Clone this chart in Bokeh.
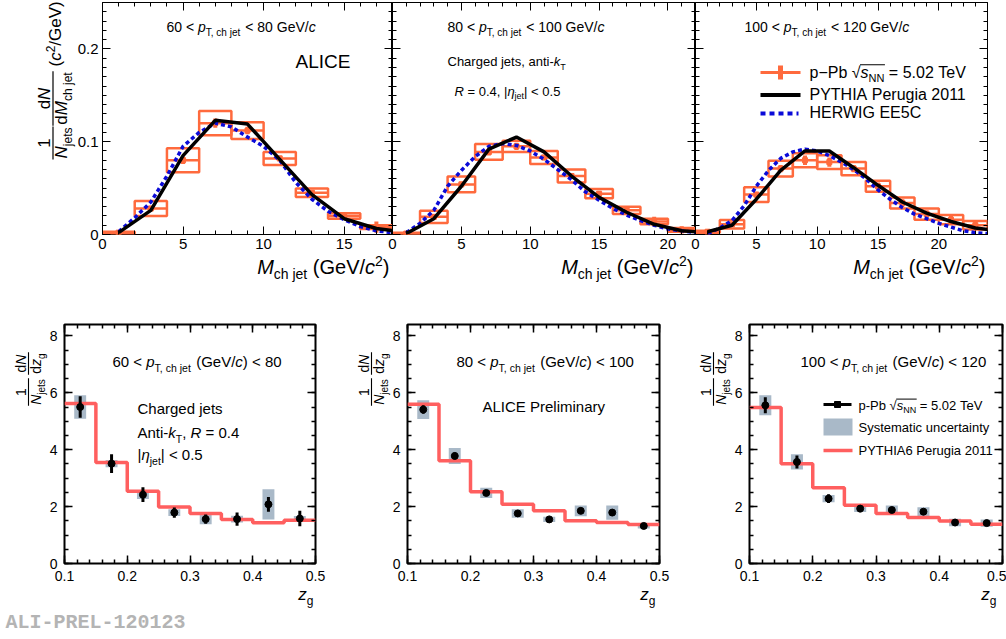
from math import pi
from bokeh.plotting import figure
from bokeh.models import (Range1d, LinearAxis, SingleIntervalTicker, NumeralTickFormatter,
                          Label, Arrow, ColumnDataSource)
from bokeh.layouts import row, column
from bokeh.embed import file_html
from bokeh.resources import INLINE

# ---------------- data ----------------
# top row: jet mass distributions, bins of width 2 GeV/c^2
mass_bins_1 = [1, 3, 5, 7, 9, 11, 13, 15, 17]
data_1 = [0.002, 0.028, 0.080, 0.120, 0.112, 0.082, 0.045, 0.020, 0.008]
stat_1 = [0.002, 0.003, 0.004, 0.005, 0.004, 0.003, 0.003, 0.004, 0.006]
sys_1 = [0.001, 0.008, 0.013, 0.013, 0.009, 0.007, 0.0045, 0.003, 0.002]
pythia_x_1 = [1, 3, 5, 7, 9, 11, 13, 15, 17, 19]
pythia_1 = [0.002, 0.026, 0.085, 0.123, 0.119, 0.081, 0.043, 0.017, 0.0065, 0.002]
herwig_x_1 = [1, 2, 3, 4, 5, 6, 7, 8, 9, 10, 11, 12, 13, 14, 15, 16, 17, 18]
herwig_1 = [0.003, 0.018, 0.035, 0.063, 0.095, 0.110, 0.120, 0.116, 0.105, 0.095, 0.080,
            0.056, 0.038, 0.025, 0.016, 0.0085, 0.004, 0.002]

mass_bins_2 = [1, 3, 5, 7, 9, 11, 13, 15, 17, 19, 21]
data_2 = [0.001, 0.019, 0.054, 0.089, 0.095, 0.083, 0.063, 0.044, 0.026, 0.014, 0.005]
stat_2 = [0.002, 0.003, 0.003, 0.004, 0.004, 0.003, 0.003, 0.003, 0.004, 0.005, 0.004]
sys_2 = [0.001, 0.0065, 0.0085, 0.0085, 0.006, 0.007, 0.007, 0.005, 0.004, 0.003, 0.002]
pythia_x_2 = [1, 3, 5, 7, 9, 11, 13, 15, 17, 19, 21, 23]
pythia_2 = [0.001, 0.017, 0.052, 0.092, 0.105, 0.089, 0.063, 0.040, 0.024, 0.011, 0.004, 0.002]
herwig_x_2 = list(range(1, 23))
herwig_2 = [0.002, 0.012, 0.026, 0.052, 0.069, 0.084, 0.095, 0.098, 0.096, 0.090, 0.081,
            0.070, 0.059, 0.046, 0.037, 0.028, 0.021, 0.015, 0.010, 0.006, 0.004, 0.002]

mass_bins_3 = [1, 3, 5, 7, 9, 11, 13, 15, 17, 19, 21, 23]
data_3 = [0.003, 0.011, 0.043, 0.071, 0.080, 0.078, 0.071, 0.052, 0.034, 0.022, 0.016, 0.010]
stat_3 = [0.002, 0.002, 0.003, 0.004, 0.005, 0.005, 0.004, 0.004, 0.004, 0.004, 0.004, 0.004]
sys_3 = [0.001, 0.0045, 0.008, 0.0085, 0.0075, 0.0075, 0.0072, 0.006, 0.006, 0.006, 0.005, 0.0045]
pythia_x_3 = [1, 3, 5, 7, 9, 11, 13, 15, 17, 19, 21, 23, 25]
pythia_3 = [0.003, 0.010, 0.038, 0.069, 0.090, 0.090, 0.072, 0.053, 0.035, 0.023, 0.014, 0.007, 0.004]
herwig_x_3 = list(range(1, 25))
herwig_3 = [0.001, 0.007, 0.015, 0.031, 0.052, 0.069, 0.082, 0.089, 0.092, 0.090, 0.085, 0.078,
            0.070, 0.060, 0.048, 0.038, 0.029, 0.022, 0.017, 0.012, 0.008, 0.004, 0.002, 0.001]

# bottom row: z_g distributions
zg_centers = [0.125, 0.175, 0.225, 0.275, 0.325, 0.375, 0.425, 0.475]
zg_edges = [0.10, 0.15, 0.20, 0.25, 0.30, 0.35, 0.40, 0.45, 0.50]
zg_1 = [5.50, 3.51, 2.42, 1.79, 1.56, 1.56, 2.08, 1.58]
zg_stat_1 = [0.38, 0.33, 0.26, 0.18, 0.16, 0.23, 0.26, 0.27]
zg_sys_1 = [0.41, 0.13, 0.15, 0.12, 0.18, 0.12, 0.53, 0.09]
zg_py_1 = [5.62, 3.55, 2.54, 1.99, 1.76, 1.55, 1.43, 1.52]
zg_2 = [5.41, 3.78, 2.48, 1.76, 1.55, 1.85, 1.79, 1.32]
zg_stat_2 = [0.15, 0.12, 0.10, 0.08, 0.07, 0.10, 0.10, 0.07]
zg_sys_2 = [0.33, 0.28, 0.18, 0.15, 0.09, 0.19, 0.25, 0.09]
zg_py_2 = [5.60, 3.61, 2.52, 2.08, 1.85, 1.50, 1.44, 1.37]
zg_3 = [5.56, 3.57, 2.28, 1.93, 1.88, 1.82, 1.44, 1.42]
zg_stat_3 = [0.28, 0.23, 0.15, 0.13, 0.10, 0.10, 0.10, 0.10]
zg_sys_3 = [0.35, 0.27, 0.13, 0.12, 0.16, 0.16, 0.13, 0.13]
zg_py_3 = [5.48, 3.51, 2.66, 2.05, 1.76, 1.62, 1.49, 1.38]

# ---------------- styles ----------------
FONT = "Liberation Sans"
ORANGE = "#ff6a3d"
BLUE = "#0a0ad8"
SYSCOL = "#a9b9c8"
RED = "#ff5f5f"
SYS_W = 0.019
BASE_K = 0.33   # measured offset of the rendered baseline, in em

HW = {' ': 278, '<': 584, '=': 584, '>': 584, '(': 333, ')': 333, '/': 278, ',': 278,
      '.': 278, '-': 333, '|': 260, '\u2212': 584, '\u221a': 549, '\u03b7': 556}
HW.update({d: 556 for d in "0123456789"})
HW.update(dict(zip("ABCDEFGHIJKLMNOPQRSTUVWXYZ",
                   [667, 667, 722, 722, 667, 611, 778, 722, 278, 500, 667, 556, 833, 722, 778,
                    667, 778, 722, 667, 611, 722, 667, 944, 667, 667, 611])))
HW.update(dict(zip("abcdefghijklmnopqrstuvwxyz",
                   [556, 556, 500, 556, 556, 278, 556, 556, 222, 222, 500, 222, 833, 556, 556,
                    556, 556, 333, 500, 278, 556, 500, 722, 500, 500, 500])))


def tw(s, size):
    return sum(HW.get(ch, 556) for ch in s) * size / 1000.0


class Geo:
    def __init__(self, left, top, w, h, x0, x1, y0, y1):
        self.left, self.top, self.w, self.h = left, top, w, h
        self.x0, self.x1, self.y0, self.y1 = x0, x1, y0, y1

    def dx(self, X):
        return self.x0 + (X - self.left) * (self.x1 - self.x0) / self.w

    def dy(self, Y):
        return self.y0 + (self.top + self.h - Y) * (self.y1 - self.y0) / self.h


def S(text, size, style="normal", dv=0.0):
    return (text, size, style, dv)


def segs_width(segs):
    return sum(tw(t, s) for t, s, _, _ in segs)


def rich(p, g, X, Y, segs, anchor="left", rotated=False, color="black", font=FONT):
    total = segs_width(segs)
    adv = {"left": 0.0, "right": -total, "center": -total / 2.0}[anchor]
    starts = []
    for t, s, st, dv in segs:
        if rotated:
            sx, sy = X + dv - BASE_K * s, Y - adv
        else:
            sx, sy = X + adv, Y + dv - BASE_K * s
        starts.append(adv)
        p.add_layout(Label(x=g.dx(sx), y=g.dy(sy), text=t.replace(" ", "\u00a0"),
                           text_font=font, text_font_size=f"{s}px", text_font_style=st,
                           text_color=color, text_baseline="alphabetic", text_align="left",
                           angle=(pi / 2 if rotated else 0.0)))
        adv += tw(t, s)
    return starts


def bar(p, g, X1, Y1, X2, Y2, lw=1.2):
    p.add_layout(Arrow(start=None, end=None, x_start=g.dx(X1), y_start=g.dy(Y1),
                       x_end=g.dx(X2), y_end=g.dy(Y2), line_color="black", line_width=lw))


def frac(p, g, Xbar, Yc, num, den, gap_num, gap_den, lw=1.2):
    L = max(segs_width(num), segs_width(den)) + 2
    rich(p, g, Xbar - gap_num, Yc, num, anchor="center", rotated=True)
    rich(p, g, Xbar + gap_den, Yc, den, anchor="center", rotated=True)
    bar(p, g, Xbar, Yc + L / 2, Xbar, Yc - L / 2, lw)


def make_fig(g, bl, br, bt, bb, outline_w, transparent=False):
    p = figure(frame_width=g.w, frame_height=g.h, min_border_left=bl, min_border_right=br,
               min_border_top=bt, min_border_bottom=bb,
               x_range=Range1d(g.x0, g.x1), y_range=Range1d(g.y0, g.y1),
               x_axis_type=None, y_axis_type=None, output_backend="svg",
               toolbar_location=None)
    p.outline_line_color = "black"
    p.outline_line_width = outline_w
    p.background_fill_color = "white"
    if transparent:
        p.border_fill_alpha = 0
    return p


def text_fig(left, top, w, h, transparent=False):
    g = Geo(left, top, w, h, 0, w, 0, h)
    p = figure(frame_width=w, frame_height=h, min_border_left=0, min_border_right=0,
               min_border_top=0, min_border_bottom=0,
               x_range=Range1d(0, w), y_range=Range1d(0, h),
               x_axis_type=None, y_axis_type=None, output_backend="svg",
               toolbar_location=None)
    p.outline_line_color = None
    if transparent:
        p.background_fill_alpha = 0
        p.border_fill_alpha = 0
    else:
        p.background_fill_color = "white"
        p.border_fill_color = "white"
    return p, g


def add_axes(p, xint, xminor, yint, yminor, xfmt, yfmt, show_x, show_y, fsize, standoff,
             maj, mino, lw):
    specs = [("below", xint, xminor, xfmt, show_x), ("above", xint, xminor, None, False),
             ("left", yint, yminor, yfmt, show_y), ("right", yint, yminor, None, False)]
    for loc, interval, nminor, fmt, show in specs:
        ax = LinearAxis(ticker=SingleIntervalTicker(interval=interval, num_minor_ticks=nminor))
        ax.axis_line_color = None
        ax.major_tick_in = maj
        ax.major_tick_out = 0
        ax.minor_tick_in = mino
        ax.minor_tick_out = 0
        ax.major_tick_line_width = lw
        ax.minor_tick_line_width = lw
        ax.major_tick_line_color = "black"
        ax.minor_tick_line_color = "black"
        if show:
            ax.formatter = NumeralTickFormatter(format=fmt)
            ax.major_label_text_font = FONT
            ax.major_label_text_font_size = f"{fsize}px"
            ax.major_label_text_color = "black"
            ax.major_label_standoff = standoff
        else:
            ax.major_label_text_font_size = "0px"
            ax.major_label_text_color = None
            ax.major_label_standoff = 0
        p.add_layout(ax, loc)


def draw_top(p, cx, y, stat, sys_, px, py, hx, hy):
    bw = cx[1] - cx[0]
    src = ColumnDataSource(dict(
        x=cx, y=y, h=[2 * s for s in sys_],
        lo=[a - b for a, b in zip(y, stat)], hi=[a + b for a, b in zip(y, stat)],
        l=[c - bw / 2 for c in cx], r=[c + bw / 2 for c in cx]))
    p.rect('x', 'y', width=bw, height='h', source=src, fill_color=None,
           line_color=ORANGE, line_width=2.5)
    p.segment('l', 'y', 'r', 'y', source=src, line_color=ORANGE, line_width=2.5)
    p.segment('x', 'lo', 'x', 'hi', source=src, line_color=ORANGE, line_width=4)
    p.scatter('x', 'y', source=src, marker='square', size=5, color=ORANGE)
    p.line(hx, hy, line_color=BLUE, line_width=3.5, line_dash="4 3")
    p.line(px, py, line_color="black", line_width=3.5)


def draw_bottom(p, cx, y, stat, sys_, edges, model):
    src = ColumnDataSource(dict(
        x=cx, y=y, h=[2 * s for s in sys_],
        lo=[a - b for a, b in zip(y, stat)], hi=[a + b for a, b in zip(y, stat)]))
    p.rect('x', 'y', width=SYS_W, height='h', source=src, fill_color=SYSCOL, line_color=None)
    xs, ys = [], []
    for i, v in enumerate(model):
        xs += [edges[i], edges[i + 1]]
        ys += [v, v]
    p.line(xs, ys, line_color=RED, line_width=3.5)
    p.segment('x', 'lo', 'x', 'hi', source=src, line_color="black", line_width=3)
    p.scatter('x', 'y', source=src, marker='circle', size=7, color="black")


def ptitle_top(p, g, X, Y, lo, hi):
    rich(p, g, X, Y, [S(f"{lo} < ", 14), S("p", 14, "italic"), S("T, ch jet", 10, "normal", 4),
                      S(f" < {hi} GeV/", 14), S("c", 14, "italic")])


def mass_title(p, g, Xr):
    rich(p, g, Xr, 273, [S("M", 20, "italic"), S("ch jet", 14, "normal", 5),
                         S(" (GeV/", 20), S("c", 20, "italic"), S("2", 14, "normal", -8),
                         S(")", 20)], anchor="right")


def ptitle_bottom(p, g, X, lo, hi):
    rich(p, g, X, 366, [S(f"{lo} < ", 15), S("p", 15, "italic"),
                        S("T, ch jet", 10.5, "normal", 4.5), S(" (GeV/", 15),
                        S("c", 15, "italic"), S(f") < {hi}", 15)])


def zg_ytitle(p, g, frame_left):
    xb = frame_left - 34
    frac(p, g, xb, 367.5, [S("1", 14)], [S("N", 14, "italic"), S("jets", 10, "normal", 4)],
         2.5, 12, 1.1)
    frac(p, g, xb, 339, [S("d", 14), S("N", 14, "italic")],
         [S("d", 14), S("z", 14, "italic"), S("g", 10, "normal", 4)], 2.5, 12, 1.1)


def zg_xtitle(p, g, frame_right):
    rich(p, g, frame_right, 600, [S("z", 17, "italic"), S("g", 12, "normal", 4)],
         anchor="right")


# ---------------- geometry (page pixels, page origin at the top-left corner) ----------------
g1 = Geo(100, 2, 290, 232, 0, 18, 0, 0.25)
g2 = Geo(390, 2, 303, 232, 0, 22, 0, 0.25)
g3 = Geo(693, 2, 292, 232, 0, 24, 0, 0.25)
g4 = Geo(62, 324, 251, 239, 0.1, 0.5, 0, 8.4)
g5 = Geo(403, 324, 252, 239, 0.1, 0.5, 0, 8.4)
g6 = Geo(743, 324, 253, 239, 0.1, 0.5, 0, 8.4)

# ---------------- top row ----------------
f1 = make_fig(g1, 26, 0, 2, 30, 1, transparent=True)
f2 = make_fig(g2, 8, 0, 2, 30, 1, transparent=True)
f3 = make_fig(g3, 8, 15, 2, 30, 1, transparent=True)
f2.margin = (0, 0, 0, -8)
f3.margin = (0, 0, 0, -8)

for f, showy in [(f1, True), (f2, False), (f3, False)]:
    add_axes(f, 5, 5, 0.1, 10, "0", "0.[0]", True, showy, 15, 4, 8, 4, 1)

draw_top(f1, mass_bins_1, data_1, stat_1, sys_1, pythia_x_1, pythia_1, herwig_x_1, herwig_1)
draw_top(f2, mass_bins_2, data_2, stat_2, sys_2, pythia_x_2, pythia_2, herwig_x_2, herwig_2)
draw_top(f3, mass_bins_3, data_3, stat_3, sys_3, pythia_x_3, pythia_3, herwig_x_3, herwig_3)

ptitle_top(f1, g1, 164, 31.5, 60, 80)
ptitle_top(f2, g2, 445, 31.5, 80, 100)
ptitle_top(f3, g3, 742, 31.5, 100, 120)
rich(f1, g1, 293, 67, [S("ALICE", 19)])
rich(f2, g2, 445, 65.5, [S("Charged jets, anti-", 13), S("k", 13, "italic"),
                         S("T", 9, "normal", 3.5)])
rich(f2, g2, 452, 95, [S("R", 13, "italic"), S(" = 0.4, |", 13), S("\u03b7", 13, "italic"),
                       S("jet", 9, "normal", 3.5), S("| < 0.5", 13)])

# legend of the top row
LX0, LX1, LT = 758, 798, 807
f3.segment(x0=[g3.dx(LX0)], y0=[g3.dy(72)], x1=[g3.dx(LX1)], y1=[g3.dy(72)],
           line_color=ORANGE, line_width=3)
f3.segment(x0=[g3.dx(778)], y0=[g3.dy(65)], x1=[g3.dx(778)], y1=[g3.dy(79)],
           line_color=ORANGE, line_width=5)
f3.segment(x0=[g3.dx(LX0)], y0=[g3.dy(94.5)], x1=[g3.dx(LX1)], y1=[g3.dy(94.5)],
           line_color="black", line_width=4)
f3.segment(x0=[g3.dx(LX0)], y0=[g3.dy(113)], x1=[g3.dx(LX1 - 2)], y1=[g3.dy(113)],
           line_color=BLUE, line_width=4, line_dash="5 4")
leg1 = [S("p\u2212Pb ", 16), S("\u221a", 16), S("s", 16, "italic"), S("NN", 11, "normal", 4),
        S(" = 5.02 TeV", 16)]
st = rich(f3, g3, LT, 77, leg1)
bar(f3, g3, LT + st[2] - 0.5, 77 - 12.8, LT + st[4] + 0.5, 77 - 12.8, 1.1)
rich(f3, g3, LT, 99, [S("PYTHIA Perugia 2011", 16)])
rich(f3, g3, LT, 117, [S("HERWIG EE5C", 16)])

# y title of the top row (own text panel, partly under the transparent border of f1)
yt1, gy1 = text_fig(0, 0, 80, 300)
frac(yt1, gy1, 52.5, 142.5, [S("1", 17)], [S("N", 17, "italic"), S("jets", 12, "normal", 5)], 3, 14)
frac(yt1, gy1, 52.5, 98, [S("d", 17), S("N", 17, "italic")],
     [S("d", 17), S("M", 17, "italic"), S("ch jet", 12, "normal", 5)], 3, 14)
rich(yt1, gy1, 61, 66, [S("(", 17), S("c", 17, "italic"), S("2", 12, "normal", -7),
                        S("/GeV)", 17)], rotated=True)

# x titles of the top row (text strip overlapping the bottom border of the frames)
xs_top, gxt = text_fig(74, 248, 926, 52, transparent=True)
xs_top.margin = (-16, 0, 0, 0)
mass_title(xs_top, gxt, 389)
mass_title(xs_top, gxt, 693)
mass_title(xs_top, gxt, 985)

# ---------------- bottom row ----------------
f4 = make_fig(g4, 16, 40, 24, 30, 2, transparent=True)
f5 = make_fig(g5, 16, 38, 24, 30, 2, transparent=True)
f6 = make_fig(g6, 16, 4, 24, 30, 2, transparent=True)
for f in (f4, f5, f6):
    f.margin = (0, 0, 0, -4)
    add_axes(f, 0.1, 5, 2, 4, "0.0", "0", True, True, 14, 7, 8, 4, 1.5)

draw_bottom(f4, zg_centers, zg_1, zg_stat_1, zg_sys_1, zg_edges, zg_py_1)
draw_bottom(f5, zg_centers, zg_2, zg_stat_2, zg_sys_2, zg_edges, zg_py_2)
draw_bottom(f6, zg_centers, zg_3, zg_stat_3, zg_sys_3, zg_edges, zg_py_3)

ptitle_bottom(f4, g4, 110, 60, 80)
ptitle_bottom(f5, g5, 452, 80, 100)
ptitle_bottom(f6, g6, 794, 100, 120)

rich(f4, g4, 135, 412.5, [S("Charged jets", 15)])
rich(f4, g4, 135, 437, [S("Anti-", 15), S("k", 15, "italic"), S("T", 10.5, "normal", 4.5),
                        S(", ", 15), S("R", 15, "italic"), S(" = 0.4", 15)])
rich(f4, g4, 135, 459, [S("|", 15), S("\u03b7", 15, "italic"), S("jet", 10.5, "normal", 4.5),
                        S("| < 0.5", 15)])
rich(f5, g5, 478, 411, [S("ALICE Preliminary", 15)])

# legend of the bottom right panel
f6.segment(x0=[g6.dx(817)], y0=[g6.dy(404)], x1=[g6.dx(845)], y1=[g6.dy(404)],
           line_color="black", line_width=3)
f6.scatter(x=[g6.dx(831)], y=[g6.dy(404)], marker="square", size=6, color="black")
f6.quad(left=[g6.dx(817)], right=[g6.dx(846)], top=[g6.dy(418)], bottom=[g6.dy(435)],
        fill_color=SYSCOL, line_color=None)
f6.segment(x0=[g6.dx(817)], y0=[g6.dy(450)], x1=[g6.dx(846)], y1=[g6.dy(450)],
           line_color=RED, line_width=3.5)
leg2 = [S("p-Pb ", 13), S("\u221a", 13), S("s", 13, "italic"), S("NN", 9, "normal", 3.5),
        S(" = 5.02 TeV", 13)]
st2 = rich(f6, g6, 852, 409, leg2)
bar(f6, g6, 852 + st2[2] - 0.5, 409 - 10.4, 852 + st2[4] + 0.5, 409 - 10.4, 1.0)
rich(f6, g6, 852, 431, [S("Systematic uncertainty", 13)])
rich(f6, g6, 852, 454, [S("PYTHIA6 Perugia 2011", 13)])

# y-title panels of the bottom row
yt4, gy4 = text_fig(0, 300, 50, 293)
yt5, gy5 = text_fig(353, 300, 38, 293)
yt6, gy6 = text_fig(693, 300, 38, 293)
zg_ytitle(yt4, gy4, 62)
zg_ytitle(yt5, gy5, 403)
zg_ytitle(yt6, gy6, 743)

# x-title strip of the bottom row (overlaps the bottom border of the frames)
xs_bot, gxb = text_fig(0, 583, 1000, 54, transparent=True)
xs_bot.margin = (-10, 0, 0, 0)
zg_xtitle(xs_bot, gxb, 313)
zg_xtitle(xs_bot, gxb, 655)
zg_xtitle(xs_bot, gxb, 996)
rich(xs_bot, gxb, 5, 629, [S("ALI-PREL-120123", 20, "bold")], color="#b4b4b4",
     font="Liberation Mono")

inner_top = column(row(f1, f2, f3), xs_top)
inner_top.margin = (0, 0, 0, -6)
top_block = row(yt1, inner_top)
bottom_block = column(row(yt4, f4, yt5, f5, yt6, f6), xs_bot)
layout = column(top_block, bottom_block)
open("out.html", "w").write(file_html(layout, INLINE))
